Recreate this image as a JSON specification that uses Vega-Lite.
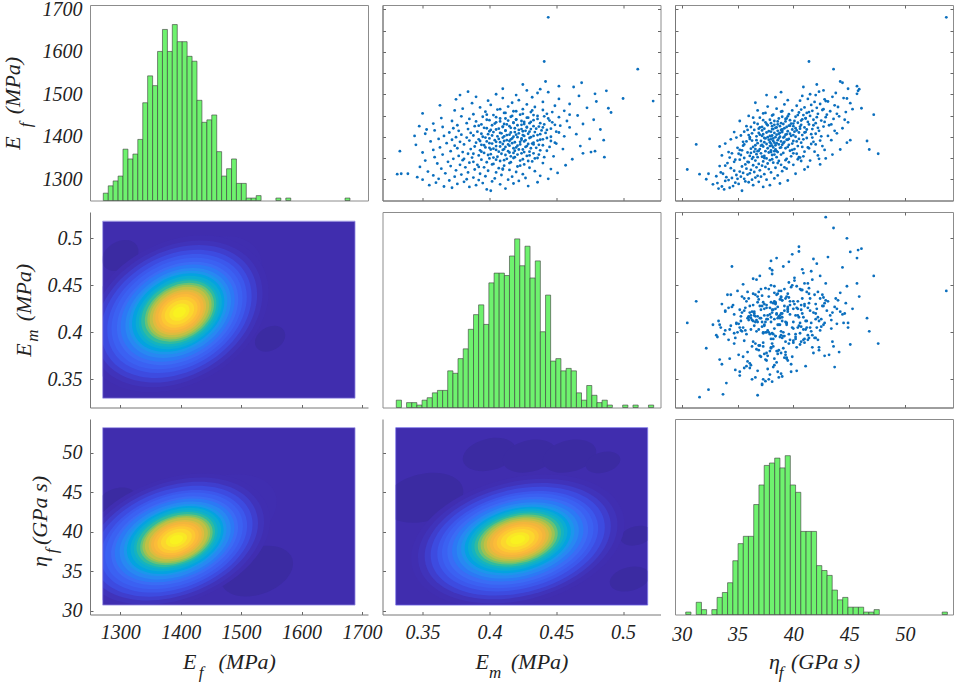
{
"$schema":"https://vega.github.io/schema/vega-lite/v6.json",
"background":"#ffffff",
"padding":{"left":0,"top":-2,"right":4,"bottom":2},
"columns":3,
"bounds":"flush",
"spacing":{"row":11,"column":14.5},
"resolve":{"scale":{"size":"independent"}},
"config":{
  "view":{"stroke":null},
  "axis":{"grid":false,"domainColor":"#777777","tickColor":"#666666","labelFont":"Liberation Serif","labelFontStyle":"italic","labelFontSize":20,"labelColor":"#222222","titleFont":"Liberation Serif","titleFontStyle":"italic","titleFontWeight":"normal","titleFontSize":22,"titleColor":"#222222","labelOverlap":false,"labelBound":false,"labelFlush":false},
  "text":{"font":"Liberation Serif","fontStyle":"italic","fontSize":17,"color":"#222222"}
},
"datasets":{
"samples":[
{"Ef":1681,"Em":0.444,"eta":53.7},{"Ef":1577,"Em":0.441,"eta":41.4},{"Ef":1559,"Em":0.511,"eta":43.6},{"Ef":1530,"Em":0.442,"eta":44.2},{"Ef":1527,"Em":0.469,"eta":44.4},{"Ef":1519,"Em":0.452,"eta":45.7},{"Ef":1512,"Em":0.438,"eta":45.9},{"Ef":1508,"Em":0.4875,"eta":45.8},{"Ef":1501,"Em":0.479,"eta":45.7},{"Ef":1517,"Em":0.463,"eta":40.9},
{"Ef":1490,"Em":0.5,"eta":44.8},{"Ef":1484,"Em":0.5225,"eta":42.9},{"Ef":1467,"Em":0.489,"eta":46.1},{"Ef":1452,"Em":0.46,"eta":47.2},{"Ef":1392,"Em":0.4855,"eta":45.1},{"Ef":1352,"Em":0.486,"eta":40.5},{"Ef":1366,"Em":0.479,"eta":38.5},{"Ef":1364,"Em":0.476,"eta":38},{"Ef":1360,"Em":0.388,"eta":47.6},{"Ef":1370,"Em":0.401,"eta":46.8},
{"Ef":1390,"Em":0.415,"eta":46.6},{"Ef":1323,"Em":0.41,"eta":30.5},{"Ef":1382,"Em":0.433,"eta":31.3},{"Ef":1312,"Em":0.331,"eta":31.6},{"Ef":1313,"Em":0.334,"eta":33.7},{"Ef":1313,"Em":0.339,"eta":32.4},{"Ef":1366,"Em":0.333,"eta":36.8},{"Ef":1425,"Em":0.3475,"eta":38.1},{"Ef":1402,"Em":0.344,"eta":37.2},{"Ef":1417,"Em":0.353,"eta":39},
{"Ef":1273,"Em":0.401,"eta":35.4},{"Ef":1276,"Em":0.398,"eta":33.8},{"Ef":1278,"Em":0.412,"eta":33.3},{"Ef":1280,"Em":0.372,"eta":34.3},{"Ef":1282,"Em":0.385,"eta":37.3},{"Ef":1283,"Em":0.366,"eta":33.6},{"Ef":1284,"Em":0.429,"eta":34.6},{"Ef":1286,"Em":0.39,"eta":36.4},{"Ef":1286,"Em":0.355,"eta":37.9},{"Ef":1288,"Em":0.408,"eta":32.8},
{"Ef":1289,"Em":0.376,"eta":35.1},{"Ef":1290,"Em":0.418,"eta":38.8},{"Ef":1291,"Em":0.395,"eta":33.2},{"Ef":1292,"Em":0.36,"eta":34.8},{"Ef":1293,"Em":0.436,"eta":36},{"Ef":1294,"Em":0.381,"eta":36.9},{"Ef":1295,"Em":0.402,"eta":35.7},{"Ef":1296,"Em":0.422,"eta":33.9},{"Ef":1297,"Em":0.37,"eta":39.5},{"Ef":1298,"Em":0.392,"eta":34.2},
{"Ef":1299,"Em":0.35,"eta":36.3},{"Ef":1299,"Em":0.414,"eta":37.6},{"Ef":1300,"Em":0.383,"eta":32.2},{"Ef":1301,"Em":0.444,"eta":35},{"Ef":1301,"Em":0.362,"eta":35.6},{"Ef":1302,"Em":0.404,"eta":38.3},{"Ef":1303,"Em":0.427,"eta":34.5},{"Ef":1304,"Em":0.388,"eta":36.6},{"Ef":1305,"Em":0.346,"eta":34},{"Ef":1306,"Em":0.374,"eta":37.1},
{"Ef":1306,"Em":0.417,"eta":35.3},{"Ef":1307,"Em":0.397,"eta":33.1},{"Ef":1308,"Em":0.438,"eta":36.8},{"Ef":1309,"Em":0.358,"eta":38.6},{"Ef":1310,"Em":0.409,"eta":34.9},{"Ef":1311,"Em":0.379,"eta":35.9},{"Ef":1312,"Em":0.425,"eta":37.4},{"Ef":1313,"Em":0.393,"eta":40.2},{"Ef":1314,"Em":0.367,"eta":36.1},{"Ef":1315,"Em":0.451,"eta":35.5},
{"Ef":1316,"Em":0.405,"eta":33.5},{"Ef":1316,"Em":0.384,"eta":38},{"Ef":1317,"Em":0.42,"eta":36.5},{"Ef":1318,"Em":0.354,"eta":35.2},{"Ef":1319,"Em":0.434,"eta":39},{"Ef":1320,"Em":0.399,"eta":34.7},{"Ef":1321,"Em":0.375,"eta":37},{"Ef":1322,"Em":0.415,"eta":36.2},{"Ef":1323,"Em":0.389,"eta":41},{"Ef":1324,"Em":0.446,"eta":37.8},
{"Ef":1325,"Em":0.364,"eta":35.8},{"Ef":1326,"Em":0.407,"eta":34.4},{"Ef":1327,"Em":0.43,"eta":38.4},{"Ef":1328,"Em":0.382,"eta":36.7},{"Ef":1328,"Em":0.396,"eta":39.2},{"Ef":1329,"Em":0.348,"eta":37.5},{"Ef":1330,"Em":0.421,"eta":35.4},{"Ef":1331,"Em":0.371,"eta":33.4},{"Ef":1332,"Em":0.411,"eta":37.2},{"Ef":1333,"Em":0.457,"eta":36.4},
{"Ef":1334,"Em":0.391,"eta":40},{"Ef":1334,"Em":0.378,"eta":38.9},{"Ef":1335,"Em":0.426,"eta":35.7},{"Ef":1336,"Em":0.403,"eta":36.9},{"Ef":1337,"Em":0.361,"eta":37.7},{"Ef":1338,"Em":0.44,"eta":34.1},{"Ef":1339,"Em":0.385,"eta":38.2},{"Ef":1340,"Em":0.416,"eta":36},{"Ef":1340,"Em":0.398,"eta":39.6},{"Ef":1341,"Em":0.369,"eta":35.9},
{"Ef":1342,"Em":0.432,"eta":37.3},{"Ef":1343,"Em":0.408,"eta":38.7},{"Ef":1344,"Em":0.352,"eta":36.6},{"Ef":1344,"Em":0.423,"eta":41.5},{"Ef":1345,"Em":0.38,"eta":37.9},{"Ef":1346,"Em":0.394,"eta":34.8},{"Ef":1347,"Em":0.462,"eta":38.1},{"Ef":1348,"Em":0.413,"eta":36.3},{"Ef":1348,"Em":0.373,"eta":39.4},{"Ef":1349,"Em":0.4,"eta":37.6},
{"Ef":1350,"Em":0.436,"eta":35.6},{"Ef":1351,"Em":0.387,"eta":40.6},{"Ef":1352,"Em":0.419,"eta":38.5},{"Ef":1352,"Em":0.359,"eta":36.8},{"Ef":1353,"Em":0.406,"eta":37.2},{"Ef":1354,"Em":0.448,"eta":39.8},{"Ef":1355,"Em":0.377,"eta":37.4},{"Ef":1355,"Em":0.428,"eta":36.1},{"Ef":1356,"Em":0.392,"eta":42.2},{"Ef":1357,"Em":0.412,"eta":35.3},
{"Ef":1358,"Em":0.365,"eta":38.3},{"Ef":1358,"Em":0.437,"eta":38.9},{"Ef":1359,"Em":0.401,"eta":36.7},{"Ef":1360,"Em":0.384,"eta":40.3},{"Ef":1361,"Em":0.424,"eta":37.1},{"Ef":1361,"Em":0.47,"eta":34.5},{"Ef":1362,"Em":0.396,"eta":39.1},{"Ef":1363,"Em":0.35,"eta":37.8},{"Ef":1363,"Em":0.415,"eta":35.9},{"Ef":1364,"Em":0.38,"eta":38.6},
{"Ef":1365,"Em":0.43,"eta":41},{"Ef":1365,"Em":0.407,"eta":36.5},{"Ef":1366,"Em":0.371,"eta":37.5},{"Ef":1367,"Em":0.419,"eta":39.7},{"Ef":1367,"Em":0.443,"eta":36.9},{"Ef":1368,"Em":0.393,"eta":38},{"Ef":1369,"Em":0.41,"eta":42.8},{"Ef":1369,"Em":0.358,"eta":35.2},{"Ef":1370,"Em":0.425,"eta":38.4},{"Ef":1371,"Em":0.386,"eta":37},
{"Ef":1371,"Em":0.455,"eta":40.1},{"Ef":1372,"Em":0.403,"eta":36.2},{"Ef":1373,"Em":0.376,"eta":39.3},{"Ef":1373,"Em":0.418,"eta":37.7},{"Ef":1374,"Em":0.435,"eta":38.8},{"Ef":1375,"Em":0.397,"eta":41.3},{"Ef":1375,"Em":0.363,"eta":38.2},{"Ef":1376,"Em":0.412,"eta":36.4},{"Ef":1376,"Em":0.427,"eta":39.5},{"Ef":1377,"Em":0.389,"eta":37.3},
{"Ef":1378,"Em":0.468,"eta":37.9},{"Ef":1378,"Em":0.405,"eta":40.4},{"Ef":1379,"Em":0.374,"eta":35.5},{"Ef":1379,"Em":0.421,"eta":38.1},{"Ef":1380,"Em":0.44,"eta":36.6},{"Ef":1381,"Em":0.394,"eta":39},{"Ef":1381,"Em":0.345,"eta":37.2},{"Ef":1382,"Em":0.414,"eta":42},{"Ef":1382,"Em":0.381,"eta":38.7},{"Ef":1383,"Em":0.429,"eta":37.6},
{"Ef":1384,"Em":0.402,"eta":33.9},{"Ef":1384,"Em":0.45,"eta":39.9},{"Ef":1385,"Em":0.368,"eta":38.5},{"Ef":1385,"Em":0.417,"eta":36.8},{"Ef":1386,"Em":0.39,"eta":40.7},{"Ef":1386,"Em":0.433,"eta":38.3},{"Ef":1387,"Em":0.408,"eta":37.4},{"Ef":1388,"Em":0.378,"eta":41.8},{"Ef":1388,"Em":0.423,"eta":39.2},{"Ef":1389,"Em":0.398,"eta":35.8},
{"Ef":1389,"Em":0.356,"eta":38.9},{"Ef":1390,"Em":0.446,"eta":37.1},{"Ef":1390,"Em":0.411,"eta":40},{"Ef":1391,"Em":0.385,"eta":36.3},{"Ef":1392,"Em":0.427,"eta":38.6},{"Ef":1392,"Em":0.404,"eta":43.4},{"Ef":1393,"Em":0.372,"eta":39.4},{"Ef":1393,"Em":0.438,"eta":37.8},{"Ef":1394,"Em":0.416,"eta":38},{"Ef":1394,"Em":0.392,"eta":40.9},
{"Ef":1395,"Em":0.475,"eta":39.6},{"Ef":1395,"Em":0.362,"eta":36.1},{"Ef":1396,"Em":0.424,"eta":38.2},{"Ef":1396,"Em":0.4,"eta":37.5},{"Ef":1397,"Em":0.443,"eta":41.2},{"Ef":1398,"Em":0.383,"eta":39.1},{"Ef":1398,"Em":0.41,"eta":34.9},{"Ef":1399,"Em":0.431,"eta":38.4},{"Ef":1399,"Em":0.375,"eta":37.7},{"Ef":1400,"Em":0.418,"eta":40.2},
{"Ef":1400,"Em":0.395,"eta":38.8},{"Ef":1401,"Em":0.456,"eta":36.7},{"Ef":1401,"Em":0.406,"eta":42.5},{"Ef":1402,"Em":0.366,"eta":39.8},{"Ef":1402,"Em":0.426,"eta":37.9},{"Ef":1403,"Em":0.388,"eta":38.1},{"Ef":1404,"Em":0.436,"eta":40.8},{"Ef":1404,"Em":0.413,"eta":36},{"Ef":1405,"Em":0.379,"eta":39.3},{"Ef":1405,"Em":0.42,"eta":38.5},
{"Ef":1406,"Em":0.465,"eta":41.6},{"Ef":1406,"Em":0.399,"eta":37.3},{"Ef":1407,"Em":0.352,"eta":38.7},{"Ef":1407,"Em":0.429,"eta":39.7},{"Ef":1408,"Em":0.409,"eta":43.9},{"Ef":1409,"Em":0.386,"eta":36.9},{"Ef":1409,"Em":0.442,"eta":38.3},{"Ef":1410,"Em":0.416,"eta":40.5},{"Ef":1410,"Em":0.37,"eta":37.6},{"Ef":1411,"Em":0.434,"eta":39},
{"Ef":1411,"Em":0.403,"eta":41.1},{"Ef":1412,"Em":0.45,"eta":38},{"Ef":1412,"Em":0.391,"eta":35.6},{"Ef":1413,"Em":0.425,"eta":39.5},{"Ef":1414,"Em":0.377,"eta":38.6},{"Ef":1414,"Em":0.412,"eta":42.3},{"Ef":1415,"Em":0.439,"eta":37.2},{"Ef":1415,"Em":0.359,"eta":40.3},{"Ef":1416,"Em":0.401,"eta":38.9},{"Ef":1416,"Em":0.422,"eta":36.5},
{"Ef":1417,"Em":0.483,"eta":39.9},{"Ef":1418,"Em":0.384,"eta":41.7},{"Ef":1418,"Em":0.431,"eta":38.2},{"Ef":1419,"Em":0.407,"eta":37.4},{"Ef":1419,"Em":0.446,"eta":40.6},{"Ef":1420,"Em":0.373,"eta":39.2},{"Ef":1420,"Em":0.419,"eta":44.4},{"Ef":1421,"Em":0.396,"eta":38.4},{"Ef":1422,"Em":0.46,"eta":37},{"Ef":1422,"Em":0.428,"eta":41},
{"Ef":1423,"Em":0.41,"eta":39.4},{"Ef":1423,"Em":0.365,"eta":36.2},{"Ef":1424,"Em":0.437,"eta":42.7},{"Ef":1425,"Em":0.389,"eta":40},{"Ef":1425,"Em":0.415,"eta":38.8},{"Ef":1426,"Em":0.453,"eta":39.6},{"Ef":1427,"Em":0.402,"eta":37.7},{"Ef":1427,"Em":0.376,"eta":43.2},{"Ef":1428,"Em":0.424,"eta":40.7},{"Ef":1429,"Em":0.441,"eta":38.6},
{"Ef":1429,"Em":0.394,"eta":41.4},{"Ef":1430,"Em":0.47,"eta":39.1},{"Ef":1430,"Em":0.411,"eta":36.8},{"Ef":1431,"Em":0.358,"eta":39.8},{"Ef":1432,"Em":0.43,"eta":42},{"Ef":1432,"Em":0.383,"eta":38},{"Ef":1433,"Em":0.418,"eta":40.4},{"Ef":1434,"Em":0.447,"eta":37.5},{"Ef":1434,"Em":0.405,"eta":44.9},{"Ef":1435,"Em":0.426,"eta":41.3},
{"Ef":1436,"Em":0.39,"eta":39.3},{"Ef":1437,"Em":0.458,"eta":40.1},{"Ef":1437,"Em":0.372,"eta":38.3},{"Ef":1438,"Em":0.414,"eta":42.5},{"Ef":1439,"Em":0.433,"eta":39.7},{"Ef":1440,"Em":0.398,"eta":37.9},{"Ef":1440,"Em":0.478,"eta":41.8},{"Ef":1441,"Em":0.42,"eta":40.8},{"Ef":1442,"Em":0.385,"eta":43.6},{"Ef":1443,"Em":0.444,"eta":38.7},
{"Ef":1443,"Em":0.408,"eta":39.4},{"Ef":1444,"Em":0.364,"eta":41.1},{"Ef":1445,"Em":0.429,"eta":36.4},{"Ef":1446,"Em":0.452,"eta":42.9},{"Ef":1447,"Em":0.395,"eta":40.2},{"Ef":1447,"Em":0.416,"eta":39},{"Ef":1448,"Em":0.379,"eta":44.1},{"Ef":1449,"Em":0.436,"eta":41.5},{"Ef":1450,"Em":0.466,"eta":38.1},{"Ef":1451,"Em":0.403,"eta":40.9},
{"Ef":1452,"Em":0.423,"eta":43},{"Ef":1453,"Em":0.388,"eta":39.6},{"Ef":1454,"Em":0.443,"eta":42.2},{"Ef":1455,"Em":0.35,"eta":37.3},{"Ef":1456,"Em":0.412,"eta":41.2},{"Ef":1457,"Em":0.491,"eta":40.5},{"Ef":1458,"Em":0.431,"eta":44.7},{"Ef":1459,"Em":0.397,"eta":38.9},{"Ef":1460,"Em":0.418,"eta":43.3},{"Ef":1461,"Em":0.456,"eta":41.7},
{"Ef":1462,"Em":0.374,"eta":39.9},{"Ef":1463,"Em":0.44,"eta":42.6},{"Ef":1464,"Em":0.406,"eta":40.7},{"Ef":1465,"Em":0.425,"eta":45.3},{"Ef":1466,"Em":0.38,"eta":38.5},{"Ef":1468,"Em":0.473,"eta":42.1},{"Ef":1469,"Em":0.393,"eta":41},{"Ef":1470,"Em":0.434,"eta":44},{"Ef":1471,"Em":0.414,"eta":37.7},{"Ef":1473,"Em":0.449,"eta":40.3},
{"Ef":1474,"Em":0.363,"eta":43.7},{"Ef":1475,"Em":0.401,"eta":41.6},{"Ef":1476,"Em":0.428,"eta":39.2},{"Ef":1477,"Em":0.46,"eta":42.4},{"Ef":1479,"Em":0.387,"eta":45.1},{"Ef":1480,"Em":0.417,"eta":36.6},{"Ef":1482,"Em":0.44,"eta":41.9},{"Ef":1483,"Em":0.48,"eta":43.1},{"Ef":1485,"Em":0.399,"eta":40.6},{"Ef":1486,"Em":0.422,"eta":39.5},
{"Ef":1488,"Em":0.375,"eta":42.8},{"Ef":1489,"Em":0.452,"eta":41.3},{"Ef":1491,"Em":0.41,"eta":44.5},{"Ef":1493,"Em":0.432,"eta":38.4},{"Ef":1494,"Em":0.39,"eta":43.5},{"Ef":1496,"Em":0.467,"eta":40.8},{"Ef":1498,"Em":0.42,"eta":42},{"Ef":1500,"Em":0.405,"eta":41.5},{"Ef":1503,"Em":0.436,"eta":43.8},{"Ef":1506,"Em":0.384,"eta":42.3},
{"Ef":1509,"Em":0.428,"eta":42.7},{"Ef":1513,"Em":0.41,"eta":44.9},{"Ef":1523,"Em":0.425,"eta":42.1},{"Ef":1505,"Em":0.444,"eta":38.9},{"Ef":1498,"Em":0.378,"eta":37.6},
{"Ef":1345,"Em":0.411,"eta":39.3},{"Ef":1347,"Em":0.425,"eta":40.4},{"Ef":1349,"Em":0.434,"eta":42.9},{"Ef":1351,"Em":0.403,"eta":34.3},{"Ef":1352,"Em":0.441,"eta":36.4},{"Ef":1354,"Em":0.416,"eta":40.9},{"Ef":1356,"Em":0.43,"eta":33.6},{"Ef":1357,"Em":0.399,"eta":38.1},{"Ef":1358,"Em":0.421,"eta":43.5},{"Ef":1360,"Em":0.409,"eta":35.1},
{"Ef":1361,"Em":0.433,"eta":40},{"Ef":1362,"Em":0.418,"eta":36.2},{"Ef":1364,"Em":0.426,"eta":34.2},{"Ef":1365,"Em":0.394,"eta":41.9},{"Ef":1366,"Em":0.414,"eta":38.3},{"Ef":1368,"Em":0.438,"eta":35.4},{"Ef":1369,"Em":0.405,"eta":39.9},{"Ef":1370,"Em":0.422,"eta":44.2},{"Ef":1371,"Em":0.411,"eta":36.6},{"Ef":1373,"Em":0.431,"eta":41.4},
{"Ef":1374,"Em":0.4,"eta":35},{"Ef":1375,"Em":0.42,"eta":38.9},{"Ef":1376,"Em":0.445,"eta":40.8},{"Ef":1377,"Em":0.408,"eta":33.4},{"Ef":1378,"Em":0.428,"eta":42.6},{"Ef":1379,"Em":0.415,"eta":37.1},{"Ef":1380,"Em":0.396,"eta":38.4},{"Ef":1381,"Em":0.437,"eta":39.6},{"Ef":1382,"Em":0.423,"eta":35.6},{"Ef":1383,"Em":0.41,"eta":41.6},
{"Ef":1384,"Em":0.432,"eta":38},{"Ef":1385,"Em":0.4,"eta":39.1},{"Ef":1386,"Em":0.449,"eta":44.8},{"Ef":1387,"Em":0.419,"eta":37.9},{"Ef":1388,"Em":0.405,"eta":35.5},{"Ef":1389,"Em":0.426,"eta":40.3},{"Ef":1390,"Em":0.393,"eta":38.2},{"Ef":1391,"Em":0.436,"eta":42.4},{"Ef":1392,"Em":0.413,"eta":36.7},{"Ef":1393,"Em":0.424,"eta":39.5},
{"Ef":1394,"Em":0.44,"eta":34.4},{"Ef":1395,"Em":0.407,"eta":40.5},{"Ef":1396,"Em":0.417,"eta":38.7},{"Ef":1397,"Em":0.43,"eta":37.4},{"Ef":1398,"Em":0.397,"eta":41.7},{"Ef":1399,"Em":0.421,"eta":36.1},{"Ef":1400,"Em":0.446,"eta":39.2},{"Ef":1401,"Em":0.411,"eta":38},{"Ef":1402,"Em":0.433,"eta":43.1},{"Ef":1403,"Em":0.402,"eta":35.3},
{"Ef":1404,"Em":0.425,"eta":40},{"Ef":1405,"Em":0.415,"eta":37},{"Ef":1406,"Em":0.438,"eta":39.4},{"Ef":1407,"Em":0.394,"eta":42},{"Ef":1408,"Em":0.422,"eta":36.3},{"Ef":1409,"Em":0.408,"eta":38.8},{"Ef":1410,"Em":0.452,"eta":41},{"Ef":1411,"Em":0.419,"eta":34.7},{"Ef":1412,"Em":0.43,"eta":40.1},{"Ef":1413,"Em":0.4,"eta":37.8},
{"Ef":1414,"Em":0.427,"eta":43.7},{"Ef":1415,"Em":0.412,"eta":39},{"Ef":1416,"Em":0.443,"eta":35.9},{"Ef":1417,"Em":0.405,"eta":41.2},{"Ef":1418,"Em":0.424,"eta":38.1},{"Ef":1419,"Em":0.435,"eta":36.9},{"Ef":1420,"Em":0.398,"eta":40.2},{"Ef":1421,"Em":0.416,"eta":42.2},{"Ef":1422,"Em":0.44,"eta":38.5},{"Ef":1423,"Em":0.428,"eta":37.2},
{"Ef":1424,"Em":0.41,"eta":40.6},{"Ef":1425,"Em":0.433,"eta":35.8},{"Ef":1426,"Em":0.392,"eta":39.7},{"Ef":1427,"Em":0.421,"eta":41.8},{"Ef":1428,"Em":0.449,"eta":38.3},{"Ef":1429,"Em":0.413,"eta":43.4},{"Ef":1430,"Em":0.426,"eta":37.6},{"Ef":1431,"Em":0.404,"eta":40},{"Ef":1432,"Em":0.438,"eta":38.9},{"Ef":1433,"Em":0.418,"eta":36.5},
{"Ef":1435,"Em":0.431,"eta":42.8},{"Ef":1436,"Em":0.408,"eta":38.6},{"Ef":1437,"Em":0.424,"eta":35.2},{"Ef":1438,"Em":0.445,"eta":40.7},{"Ef":1439,"Em":0.4,"eta":37.3},{"Ef":1440,"Em":0.42,"eta":44.6},{"Ef":1442,"Em":0.436,"eta":39.3},{"Ef":1443,"Em":0.412,"eta":41.1},{"Ef":1445,"Em":0.428,"eta":37},{"Ef":1446,"Em":0.405,"eta":42.1},
{"Ef":1448,"Em":0.441,"eta":39.5},{"Ef":1449,"Em":0.417,"eta":36},{"Ef":1451,"Em":0.433,"eta":40.4},{"Ef":1452,"Em":0.398,"eta":38.2},{"Ef":1454,"Em":0.425,"eta":43.9},{"Ef":1456,"Em":0.411,"eta":37.5},{"Ef":1458,"Em":0.447,"eta":41.4},{"Ef":1460,"Em":0.42,"eta":39},{"Ef":1462,"Em":0.432,"eta":36.8},{"Ef":1465,"Em":0.408,"eta":42.7},
{"Ef":1325,"Em":0.41,"eta":39.4},{"Ef":1329,"Em":0.392,"eta":41.3},{"Ef":1332,"Em":0.423,"eta":33.9},{"Ef":1335,"Em":0.402,"eta":42.4},{"Ef":1338,"Em":0.415,"eta":38.6},{"Ef":1341,"Em":0.388,"eta":34.7},{"Ef":1343,"Em":0.429,"eta":40.7},{"Ef":1346,"Em":0.405,"eta":35.2},{"Ef":1348,"Em":0.381,"eta":42.3},{"Ef":1350,"Em":0.418,"eta":37.4}
],
"ml":[
{"x":1454,"y":0.4586,"hw":80,"level":0.014},{"x":1548,"y":0.3931,"hw":25,"level":0},{"x":1300,"y":0.4817,"hw":30,"level":0},
{"x":1393,"y":0.4197,"hw":152,"level":0.015},{"x":1393,"y":0.4197,"hw":142,"level":0.025},{"x":1393,"y":0.4197,"hw":133,"level":0.04},{"x":1393,"y":0.4197,"hw":124,"level":0.06},{"x":1394,"y":0.42,"hw":115,"level":0.09},{"x":1394,"y":0.42,"hw":108,"level":0.12},{"x":1395,"y":0.42,"hw":100,"level":0.16},{"x":1395,"y":0.4205,"hw":94,"level":0.2},{"x":1396,"y":0.4205,"hw":87,"level":0.25},{"x":1396,"y":0.421,"hw":81,"level":0.3},{"x":1396,"y":0.421,"hw":76,"level":0.35},{"x":1397,"y":0.421,"hw":71,"level":0.4},{"x":1397,"y":0.421,"hw":66,"level":0.45},{"x":1397,"y":0.4214,"hw":62,"level":0.5},{"x":1398,"y":0.4214,"hw":57,"level":0.55},{"x":1398,"y":0.4214,"hw":53,"level":0.6},{"x":1398,"y":0.4214,"hw":49,"level":0.65},{"x":1398,"y":0.4214,"hw":44,"level":0.7},{"x":1398,"y":0.4214,"hw":40,"level":0.75},{"x":1398,"y":0.4214,"hw":35,"level":0.8},{"x":1398,"y":0.4214,"hw":30,"level":0.85},{"x":1398,"y":0.4214,"hw":24.3,"level":0.9},{"x":1398,"y":0.4214,"hw":16.6,"level":0.95},{"x":1398,"y":0.4214,"hw":10.5,"level":0.98}
],
"bl":[
{"x":1465,"y":42.25,"hw":94,"level":0.014},{"x":1526,"y":35,"hw":60,"level":0},{"x":1294,"y":43.9,"hw":32,"level":0},
{"x":1388,"y":38.8,"hw":160,"level":0.015},{"x":1388,"y":38.8,"hw":150,"level":0.025},{"x":1388,"y":38.8,"hw":140,"level":0.04},{"x":1388,"y":38.8,"hw":131,"level":0.06},{"x":1389,"y":38.8,"hw":121,"level":0.09},{"x":1389,"y":38.85,"hw":114,"level":0.12},{"x":1390,"y":38.85,"hw":105,"level":0.16},{"x":1390,"y":38.9,"hw":99,"level":0.2},{"x":1391,"y":38.9,"hw":92,"level":0.25},{"x":1391,"y":38.95,"hw":85,"level":0.3},{"x":1391,"y":38.95,"hw":80,"level":0.35},{"x":1392,"y":39,"hw":75,"level":0.4},{"x":1392,"y":39,"hw":69.5,"level":0.45},{"x":1392,"y":39,"hw":65,"level":0.5},{"x":1393,"y":39,"hw":60,"level":0.55},{"x":1393,"y":39,"hw":56,"level":0.6},{"x":1393,"y":39,"hw":52,"level":0.65},{"x":1393,"y":39,"hw":46,"level":0.7},{"x":1393,"y":39,"hw":42,"level":0.75},{"x":1393,"y":39,"hw":37,"level":0.8},{"x":1393,"y":39,"hw":31.6,"level":0.85},{"x":1393,"y":39,"hw":25.6,"level":0.9},{"x":1393,"y":39,"hw":17.5,"level":0.95},{"x":1393,"y":39,"hw":11,"level":0.98}
],
"bm":[
{"x":0.4,"y":49.8,"hw":0.02,"level":0},{"x":0.43,"y":49.6,"hw":0.02,"level":0},{"x":0.46,"y":49.6,"hw":0.02,"level":0},{"x":0.485,"y":48.8,"hw":0.013,"level":0},{"x":0.3505,"y":44.3,"hw":0.03,"level":0},{"x":0.505,"y":34,"hw":0.015,"level":0},{"x":0.51,"y":39.5,"hw":0.012,"level":0},
{"x":0.4212,"y":38.8,"hw":0.08,"level":0.015},{"x":0.4212,"y":38.8,"hw":0.0748,"level":0.025},{"x":0.4212,"y":38.8,"hw":0.0698,"level":0.04},{"x":0.4212,"y":38.8,"hw":0.0653,"level":0.06},{"x":0.4212,"y":38.8,"hw":0.0603,"level":0.09},{"x":0.4212,"y":38.85,"hw":0.0568,"level":0.12},{"x":0.4212,"y":38.85,"hw":0.0528,"level":0.16},{"x":0.4212,"y":38.9,"hw":0.0493,"level":0.2},{"x":0.4212,"y":38.9,"hw":0.0458,"level":0.25},{"x":0.4212,"y":38.95,"hw":0.0425,"level":0.3},{"x":0.4212,"y":38.95,"hw":0.0398,"level":0.35},{"x":0.4212,"y":39,"hw":0.0373,"level":0.4},{"x":0.4212,"y":39,"hw":0.0348,"level":0.45},{"x":0.4212,"y":39,"hw":0.0325,"level":0.5},{"x":0.4212,"y":39,"hw":0.03,"level":0.55},{"x":0.4212,"y":39,"hw":0.0278,"level":0.6},{"x":0.4212,"y":39,"hw":0.0255,"level":0.65},{"x":0.4212,"y":39,"hw":0.0233,"level":0.7},{"x":0.4212,"y":39,"hw":0.021,"level":0.75},{"x":0.4212,"y":39,"hw":0.0185,"level":0.8},{"x":0.4212,"y":39,"hw":0.0158,"level":0.85},{"x":0.4212,"y":39,"hw":0.0128,"level":0.9},{"x":0.4212,"y":39,"hw":0.0088,"level":0.95},{"x":0.4212,"y":39,"hw":0.0055,"level":0.98}
]
},
"concat":[
{
  "width":278,"height":195.5,"view":{"stroke":"#8c8c8c"},
  "layer":[
    {"data":{"values":[
{"lo":1272,"hi":1280.2,"n":3},{"lo":1280.2,"hi":1288.3,"n":6},{"lo":1288.3,"hi":1296.5,"n":8},{"lo":1296.5,"hi":1304.6,"n":10},{"lo":1304.6,"hi":1312.8,"n":21},{"lo":1312.8,"hi":1321,"n":17},{"lo":1321,"hi":1329.1,"n":19},{"lo":1329.1,"hi":1337.3,"n":25},{"lo":1337.3,"hi":1345.4,"n":40},{"lo":1345.4,"hi":1353.6,"n":51},{"lo":1353.6,"hi":1361.8,"n":47},{"lo":1361.8,"hi":1369.9,"n":61},{"lo":1369.9,"hi":1378.1,"n":70},{"lo":1378.1,"hi":1386.2,"n":61},{"lo":1386.2,"hi":1394.4,"n":72},{"lo":1394.4,"hi":1402.6,"n":65},{"lo":1402.6,"hi":1410.7,"n":65},{"lo":1410.7,"hi":1418.9,"n":59},{"lo":1418.9,"hi":1427,"n":57},{"lo":1427,"hi":1435.2,"n":41},{"lo":1435.2,"hi":1443.4,"n":32},{"lo":1443.4,"hi":1451.5,"n":33},{"lo":1451.5,"hi":1459.7,"n":35},{"lo":1459.7,"hi":1467.8,"n":20},{"lo":1467.8,"hi":1476,"n":10},{"lo":1476,"hi":1484.2,"n":13},{"lo":1484.2,"hi":1492.3,"n":17},{"lo":1492.3,"hi":1500.5,"n":7},{"lo":1500.5,"hi":1508.6,"n":7},{"lo":1508.6,"hi":1516.8,"n":1},{"lo":1516.8,"hi":1525,"n":1},{"lo":1525,"hi":1533.1,"n":2},{"lo":1557.6,"hi":1565.8,"n":1},{"lo":1574,"hi":1582.2,"n":1},{"lo":1672,"hi":1680.2,"n":1}
    ]},
    "mark":{"type":"rect","fill":"#6ef26e","stroke":"#3a3a3a","strokeWidth":0.8,"strokeOpacity":0.75},
    "encoding":{
      "x":{"field":"lo","type":"quantitative","scale":{"domain":[1250,1710],"nice":false},"axis":null},
      "x2":{"field":"hi"},
      "y":{"field":"n","type":"quantitative","scale":{"domain":[0,80],"nice":false},"axis":null},
      "y2":{"datum":0}
    }},
    {"data":{"values":[{"t":"f","x":1152,"y":1428}]},
    "mark":{"type":"text","angle":270,"baseline":"alphabetic","align":"center"},
    "encoding":{
      "text":{"field":"t"},
      "x":{"field":"x","type":"quantitative","scale":{"domain":[1250,1710],"nice":false},"axis":null},
      "y":{"field":"y","type":"quantitative","scale":{"domain":[1250,1710],"nice":false},
        "axis":{"values":[1300,1400,1500,1600,1700],"format":"d","tickSize":0,"domain":false,"labelPadding":8,"title":"E\u2003(MPa)","titleX":-71,"titleBaseline":"alphabetic","titleAngle":270}}
    }}
  ],
  "resolve":{"scale":{"y":"independent"}}
},
{
  "width":278,"height":195.5,"view":{"stroke":"#8c8c8c"},
  "data":{"name":"samples"},
  "encoding":{
    "x":{"field":"Em","type":"quantitative","scale":{"domain":[0.32,0.528],"nice":false}},
    "y":{"field":"Ef","type":"quantitative","scale":{"domain":[1250,1710],"nice":false}}
  },
  "layer":[
    {"mark":{"type":"point","filled":true,"size":8,"color":"#0b6fbe","opacity":1},
    "encoding":{
      "x":{"field":"Em","type":"quantitative","axis":{"values":[0.35,0.4,0.45,0.5],"labels":false,"tickSize":-3,"title":null}},
      "y":{"field":"Ef","type":"quantitative","axis":{"values":[1300,1350,1400,1450,1500,1550,1600,1650,1700],"labels":false,"tickSize":-3,"title":null}}
    }},
    {"mark":{"type":"point","opacity":0},
    "encoding":{
      "x":{"field":"Em","type":"quantitative","axis":{"orient":"top","values":[0.35,0.4,0.45,0.5],"labels":false,"tickSize":-3,"title":null,"domain":false}},
      "y":{"field":"Ef","type":"quantitative","axis":{"orient":"right","values":[1300,1350,1400,1450,1500,1550,1600,1650,1700],"labels":false,"tickSize":-3,"title":null,"domain":false}}
    }}
  ],
  "resolve":{"axis":{"x":"independent","y":"independent"}}
},
{
  "width":278,"height":195.5,"view":{"stroke":"#8c8c8c"},
  "data":{"name":"samples"},
  "encoding":{
    "x":{"field":"eta","type":"quantitative","scale":{"domain":[29.4,54.3],"nice":false}},
    "y":{"field":"Ef","type":"quantitative","scale":{"domain":[1250,1710],"nice":false}}
  },
  "layer":[
    {"mark":{"type":"point","filled":true,"size":8,"color":"#0b6fbe","opacity":1},
    "encoding":{
      "x":{"field":"eta","type":"quantitative","axis":{"values":[30,35,40,45,50],"labels":false,"tickSize":-3,"title":null}},
      "y":{"field":"Ef","type":"quantitative","axis":{"values":[1300,1350,1400,1450,1500,1550,1600,1650,1700],"labels":false,"tickSize":-3,"title":null}}
    }},
    {"mark":{"type":"point","opacity":0},
    "encoding":{
      "x":{"field":"eta","type":"quantitative","axis":{"orient":"top","values":[30,35,40,45,50],"labels":false,"tickSize":-3,"title":null,"domain":false}},
      "y":{"field":"Ef","type":"quantitative","axis":{"orient":"right","values":[1300,1350,1400,1450,1500,1550,1600,1650,1700],"labels":false,"tickSize":-3,"title":null,"domain":false}}
    }}
  ],
  "resolve":{"axis":{"x":"independent","y":"independent"}}
},
{
  "width":278,"height":195.5,
  "encoding":{
    "x":{"field":"x","type":"quantitative","scale":{"domain":[1250,1710],"nice":false},"axis":{"values":[1300,1400,1500,1600,1700],"labels":false,"tickSize":-3,"title":null,"zindex":1}},
    "y":{"field":"y","type":"quantitative","scale":{"domain":[0.32,0.528],"nice":false},"axis":{"values":[0.35,0.4,0.45,0.5],"format":".2~f","tickSize":-3,"labelPadding":11,"title":"E\u2003(MPa)","titleX":-60,"titleBaseline":"alphabetic","titleAngle":270,"zindex":1}}
  },
  "layer":[
    {"data":{"values":[{"x":1271,"xe":1688.5,"y":0.3299,"ye":0.5182}]},"mark":{"type":"rect","fill":"#402dae"},"encoding":{"x2":{"field":"xe"},"y2":{"field":"ye"}}},
    {"data":{"name":"ml"},
    "mark":{"type":"point","filled":true,"opacity":1,"strokeWidth":0,"clip":true,"shape":"M.866 -.5C1.0648 -.1556 .8383 .3473 .36 .6235C-.1183 .8997 -.6672 .8444 -.866 .5C-1.0648 .1556 -.8383 -.3473 -.36 -.6235C.1183 -.8997 .6672 -.8444 .866 -.5Z"},
    "encoding":{
      "size":{"field":"hw","type":"quantitative","scale":{"type":"pow","exponent":2,"domain":[0,150],"range":[0,37640]},"legend":null},
      "color":{"field":"level","type":"quantitative","scale":{"domain":[0,0.012,0.03,0.05,0.1,0.16,0.28,0.38,0.45,0.5,0.58,0.68,0.77,0.88,0.95,1],"range":["#3b2ba2","#402dae","#4035bf","#3d47dc","#3c5cf0","#3a6cf5","#2e90ef","#1fa8d8","#14b3c0","#2fbba0","#8dc25c","#d8bd40","#f9b43c","#fcd030","#f9e825","#f9f81c"]},"legend":null}
    }},
    {"data":{"values":[{"x":1250,"xe":1271,"y":0.32,"ye":0.528},{"x":1688.5,"xe":1710,"y":0.32,"ye":0.528},{"x":1250,"xe":1710,"y":0.32,"ye":0.3299},{"x":1250,"xe":1710,"y":0.5182,"ye":0.528}]},"mark":{"type":"rect","fill":"#ffffff"},"encoding":{"x2":{"field":"xe"},"y2":{"field":"ye"}}},
    {"data":{"values":[{"x":1271,"xe":1688.5,"y":0.3299,"ye":0.5182}]},"mark":{"type":"rect","filled":false,"stroke":"#8f86e0","strokeWidth":0.8},"encoding":{"x2":{"field":"xe"},"y2":{"field":"ye"}}},
    {"data":{"values":[{"t":"m","x":1164,"y":0.3966}]},"mark":{"type":"text","angle":270,"baseline":"alphabetic","align":"center"},"encoding":{"text":{"field":"t"}}}
  ]
},
{
  "width":278,"height":195.5,"view":{"stroke":"#8c8c8c"},
  "data":{"values":[
{"lo":0.3303,"hi":0.3342,"n":3},{"lo":0.338,"hi":0.3419,"n":2},{"lo":0.3419,"hi":0.3457,"n":2},{"lo":0.3457,"hi":0.3496,"n":1},{"lo":0.3496,"hi":0.3534,"n":3},{"lo":0.3534,"hi":0.3573,"n":4},{"lo":0.3573,"hi":0.3611,"n":6},{"lo":0.3611,"hi":0.365,"n":7},{"lo":0.365,"hi":0.3688,"n":7},{"lo":0.3688,"hi":0.3727,"n":15},{"lo":0.3727,"hi":0.3765,"n":14},{"lo":0.3765,"hi":0.3804,"n":20},{"lo":0.3804,"hi":0.3842,"n":24},{"lo":0.3842,"hi":0.3881,"n":32},{"lo":0.3881,"hi":0.3919,"n":38},{"lo":0.3919,"hi":0.3958,"n":42},{"lo":0.3958,"hi":0.3996,"n":34},{"lo":0.3996,"hi":0.4035,"n":51},{"lo":0.4035,"hi":0.4073,"n":55},{"lo":0.4073,"hi":0.4112,"n":55},{"lo":0.4112,"hi":0.415,"n":54},{"lo":0.415,"hi":0.4189,"n":62},{"lo":0.4189,"hi":0.4227,"n":69},{"lo":0.4227,"hi":0.4266,"n":58},{"lo":0.4266,"hi":0.4304,"n":66},{"lo":0.4304,"hi":0.4343,"n":53},{"lo":0.4343,"hi":0.4381,"n":60},{"lo":0.4381,"hi":0.442,"n":31},{"lo":0.442,"hi":0.4458,"n":46},{"lo":0.4458,"hi":0.4497,"n":19},{"lo":0.4497,"hi":0.4535,"n":20},{"lo":0.4535,"hi":0.4574,"n":15},{"lo":0.4574,"hi":0.4612,"n":16},{"lo":0.4612,"hi":0.4651,"n":15},{"lo":0.4651,"hi":0.4689,"n":6},{"lo":0.4689,"hi":0.4728,"n":3},{"lo":0.4728,"hi":0.4766,"n":9},{"lo":0.4766,"hi":0.4805,"n":5},{"lo":0.4805,"hi":0.4843,"n":2},{"lo":0.4843,"hi":0.4882,"n":3},{"lo":0.4882,"hi":0.492,"n":1},{"lo":0.4997,"hi":0.5036,"n":1},{"lo":0.5074,"hi":0.5113,"n":1},{"lo":0.519,"hi":0.5229,"n":1}
  ]},
  "mark":{"type":"rect","fill":"#6ef26e","stroke":"#3a3a3a","strokeWidth":0.8,"strokeOpacity":0.75},
  "encoding":{
    "x":{"field":"lo","type":"quantitative","scale":{"domain":[0.32,0.528],"nice":false},"axis":null},
    "x2":{"field":"hi"},
    "y":{"field":"n","type":"quantitative","scale":{"domain":[0,80],"nice":false},"axis":null},
    "y2":{"datum":0}
  }
},
{
  "width":278,"height":195.5,"view":{"stroke":"#8c8c8c"},
  "data":{"name":"samples"},
  "encoding":{
    "x":{"field":"eta","type":"quantitative","scale":{"domain":[29.4,54.3],"nice":false}},
    "y":{"field":"Em","type":"quantitative","scale":{"domain":[0.32,0.528],"nice":false}}
  },
  "layer":[
    {"mark":{"type":"point","filled":true,"size":8,"color":"#0b6fbe","opacity":1},
    "encoding":{
      "x":{"field":"eta","type":"quantitative","axis":{"values":[30,35,40,45,50],"labels":false,"tickSize":-3,"title":null}},
      "y":{"field":"Em","type":"quantitative","axis":{"values":[0.35,0.4,0.45,0.5],"labels":false,"tickSize":-3,"title":null}}
    }},
    {"mark":{"type":"point","opacity":0},
    "encoding":{
      "x":{"field":"eta","type":"quantitative","axis":{"orient":"top","values":[30,35,40,45,50],"labels":false,"tickSize":-3,"title":null,"domain":false}},
      "y":{"field":"Em","type":"quantitative","axis":{"orient":"right","values":[0.35,0.4,0.45,0.5],"labels":false,"tickSize":-3,"title":null,"domain":false}}
    }}
  ],
  "resolve":{"axis":{"x":"independent","y":"independent"}}
},
{
  "width":278,"height":195.5,
  "encoding":{
    "x":{"field":"x","type":"quantitative","scale":{"domain":[1250,1710],"nice":false},"axis":{"values":[1300,1400,1500,1600,1700],"format":"d","tickSize":-3,"labelPadding":11,"title":"E\u2003(MPa)","titleY":53.5,"titleBaseline":"alphabetic","zindex":1}},
    "y":{"field":"y","type":"quantitative","scale":{"domain":[29.5,54.3],"nice":false},"axis":{"values":[30,35,40,45,50],"format":"d","tickSize":-3,"labelPadding":11,"title":"\u03b7\u2002(GPa s)","titleX":-44,"titleY":102,"titleBaseline":"alphabetic","titleAngle":270,"zindex":1}}
  },
  "layer":[
    {"data":{"values":[{"x":1271,"xe":1688.5,"y":30.7,"ye":53.2}]},"mark":{"type":"rect","fill":"#402dae"},"encoding":{"x2":{"field":"xe"},"y2":{"field":"ye"}}},
    {"data":{"name":"bl"},
    "mark":{"type":"point","filled":true,"opacity":1,"strokeWidth":0,"clip":true,"shape":"M.9397 -.342C1.0568 -.0202 .731 .3937 .212 .5826C-.307 .7715 -.8226 .6638 -.9397 .342C-1.0568 .0202 -.731 -.3937 -.212 -.5826C.307 -.7715 .8226 -.6638 .9397 -.342Z"},
    "encoding":{
      "size":{"field":"hw","type":"quantitative","scale":{"type":"pow","exponent":2,"domain":[0,150],"range":[0,35400]},"legend":null},
      "color":{"field":"level","type":"quantitative","scale":{"domain":[0,0.012,0.03,0.05,0.1,0.16,0.28,0.38,0.45,0.5,0.58,0.68,0.77,0.88,0.95,1],"range":["#3b2ba2","#402dae","#4035bf","#3d47dc","#3c5cf0","#3a6cf5","#2e90ef","#1fa8d8","#14b3c0","#2fbba0","#8dc25c","#d8bd40","#f9b43c","#fcd030","#f9e825","#f9f81c"]},"legend":null}
    }},
    {"data":{"values":[{"x":1250,"xe":1271,"y":29.5,"ye":54.3},{"x":1688.5,"xe":1710,"y":29.5,"ye":54.3},{"x":1250,"xe":1710,"y":29.5,"ye":30.7},{"x":1250,"xe":1710,"y":53.2,"ye":54.3}]},"mark":{"type":"rect","fill":"#ffffff"},"encoding":{"x2":{"field":"xe"},"y2":{"field":"ye"}}},
    {"data":{"values":[{"x":1271,"xe":1688.5,"y":30.7,"ye":53.2}]},"mark":{"type":"rect","filled":false,"stroke":"#8f86e0","strokeWidth":0.8},"encoding":{"x2":{"field":"xe"},"y2":{"field":"ye"}}},
    {"data":{"values":[{"t":"f","x":1434,"y":21.4}]},"mark":{"type":"text","baseline":"alphabetic","align":"center"},"encoding":{"text":{"field":"t"}}},
    {"data":{"values":[{"t":"f","x":1195,"y":37.56}]},"mark":{"type":"text","angle":270,"baseline":"alphabetic","align":"center"},"encoding":{"text":{"field":"t"}}}
  ]
},
{
  "width":278,"height":195.5,
  "encoding":{
    "x":{"field":"x","type":"quantitative","scale":{"domain":[0.32,0.528],"nice":false},"axis":{"values":[0.35,0.4,0.45,0.5],"format":".2~f","tickSize":-3,"labelPadding":11,"title":"E\u2003(MPa)","titleY":53.5,"titleBaseline":"alphabetic","zindex":1}},
    "y":{"field":"y","type":"quantitative","scale":{"domain":[29.5,54.3],"nice":false},"axis":{"values":[30,35,40,45,50],"labels":false,"tickSize":-3,"title":null,"zindex":1}}
  },
  "layer":[
    {"data":{"values":[{"x":0.3299,"xe":0.5184,"y":30.7,"ye":53.2}]},"mark":{"type":"rect","fill":"#402dae"},"encoding":{"x2":{"field":"xe"},"y2":{"field":"ye"}}},
    {"data":{"name":"bm"},
    "mark":{"type":"point","filled":true,"opacity":1,"strokeWidth":0,"clip":true,"shape":"M.9703 -.2419C1.0478 .0689 .6762 .4292 .1403 .5628C-.3956 .6964 -.8928 .5527 -.9703 .2419C-1.0478 -.0689 -.6762 -.4292 -.1403 -.5628C.3956 -.6964 .8928 -.5527 .9703 -.2419Z"},
    "encoding":{
      "size":{"field":"hw","type":"quantitative","scale":{"type":"pow","exponent":2,"domain":[0,0.08],"range":[0,47350]},"legend":null},
      "color":{"field":"level","type":"quantitative","scale":{"domain":[0,0.012,0.03,0.05,0.1,0.16,0.28,0.38,0.45,0.5,0.58,0.68,0.77,0.88,0.95,1],"range":["#3b2ba2","#402dae","#4035bf","#3d47dc","#3c5cf0","#3a6cf5","#2e90ef","#1fa8d8","#14b3c0","#2fbba0","#8dc25c","#d8bd40","#f9b43c","#fcd030","#f9e825","#f9f81c"]},"legend":null}
    }},
    {"data":{"values":[{"x":0.32,"xe":0.3299,"y":29.5,"ye":54.3},{"x":0.5184,"xe":0.528,"y":29.5,"ye":54.3},{"x":0.32,"xe":0.528,"y":29.5,"ye":30.7},{"x":0.32,"xe":0.528,"y":53.2,"ye":54.3}]},"mark":{"type":"rect","fill":"#ffffff"},"encoding":{"x2":{"field":"xe"},"y2":{"field":"ye"}}},
    {"data":{"values":[{"x":0.3299,"xe":0.5184,"y":30.7,"ye":53.2}]},"mark":{"type":"rect","filled":false,"stroke":"#6a5fe0","strokeWidth":0.8},"encoding":{"x2":{"field":"xe"},"y2":{"field":"ye"}}},
    {"data":{"values":[{"t":"m","x":0.4042,"y":21.4}]},"mark":{"type":"text","baseline":"alphabetic","align":"center"},"encoding":{"text":{"field":"t"}}}
  ]
},
{
  "width":278,"height":195.5,"view":{"stroke":"#8c8c8c"},
  "layer":[
    {"data":{"values":[
{"lo":30.36,"hi":30.83,"n":1},{"lo":31.3,"hi":31.77,"n":5},{"lo":31.77,"hi":32.23,"n":2},{"lo":32.7,"hi":33.17,"n":2},{"lo":33.17,"hi":33.64,"n":7},{"lo":33.64,"hi":34.11,"n":9},{"lo":34.11,"hi":34.58,"n":13},{"lo":34.58,"hi":35.05,"n":22},{"lo":35.05,"hi":35.52,"n":29},{"lo":35.52,"hi":35.98,"n":32},{"lo":35.98,"hi":36.45,"n":32},{"lo":36.45,"hi":36.92,"n":45},{"lo":36.92,"hi":37.39,"n":53},{"lo":37.39,"hi":37.86,"n":61},{"lo":37.86,"hi":38.33,"n":62},{"lo":38.33,"hi":38.8,"n":64},{"lo":38.8,"hi":39.27,"n":60},{"lo":39.27,"hi":39.73,"n":65},{"lo":39.73,"hi":40.2,"n":53},{"lo":40.2,"hi":40.67,"n":50},{"lo":40.67,"hi":41.14,"n":34},{"lo":41.14,"hi":41.61,"n":34},{"lo":41.61,"hi":42.08,"n":34},{"lo":42.08,"hi":42.55,"n":20},{"lo":42.55,"hi":43.02,"n":18},{"lo":43.02,"hi":43.48,"n":16},{"lo":43.48,"hi":43.95,"n":10},{"lo":43.95,"hi":44.42,"n":6},{"lo":44.42,"hi":44.89,"n":7},{"lo":44.89,"hi":45.36,"n":3},{"lo":45.36,"hi":45.83,"n":3},{"lo":45.83,"hi":46.3,"n":3},{"lo":46.3,"hi":46.76,"n":1},{"lo":46.76,"hi":47.23,"n":1},{"lo":47.23,"hi":47.7,"n":2},{"lo":53.33,"hi":53.8,"n":1}
    ]},
    "mark":{"type":"rect","fill":"#6ef26e","stroke":"#3a3a3a","strokeWidth":0.8,"strokeOpacity":0.75},
    "encoding":{
      "x":{"field":"lo","type":"quantitative","scale":{"domain":[29.4,54.3],"nice":false},"axis":{"values":[30,35,40,45,50],"format":"d","tickSize":0,"domain":false,"labelPadding":10,"title":"\u03b7\u2002(GPa s)","titleY":53.5,"titleBaseline":"alphabetic"}},
      "x2":{"field":"hi"},
      "y":{"field":"n","type":"quantitative","scale":{"domain":[0,80],"nice":false},"axis":null},
      "y2":{"datum":0}
    }},
    {"data":{"values":[{"t":"f","x":38.9,"y":-26}]},
    "mark":{"type":"text","baseline":"alphabetic","align":"center"},
    "encoding":{
      "text":{"field":"t"},
      "x":{"field":"x","type":"quantitative"},
      "y":{"field":"y","type":"quantitative"}
    }}
  ]
}
]
}
